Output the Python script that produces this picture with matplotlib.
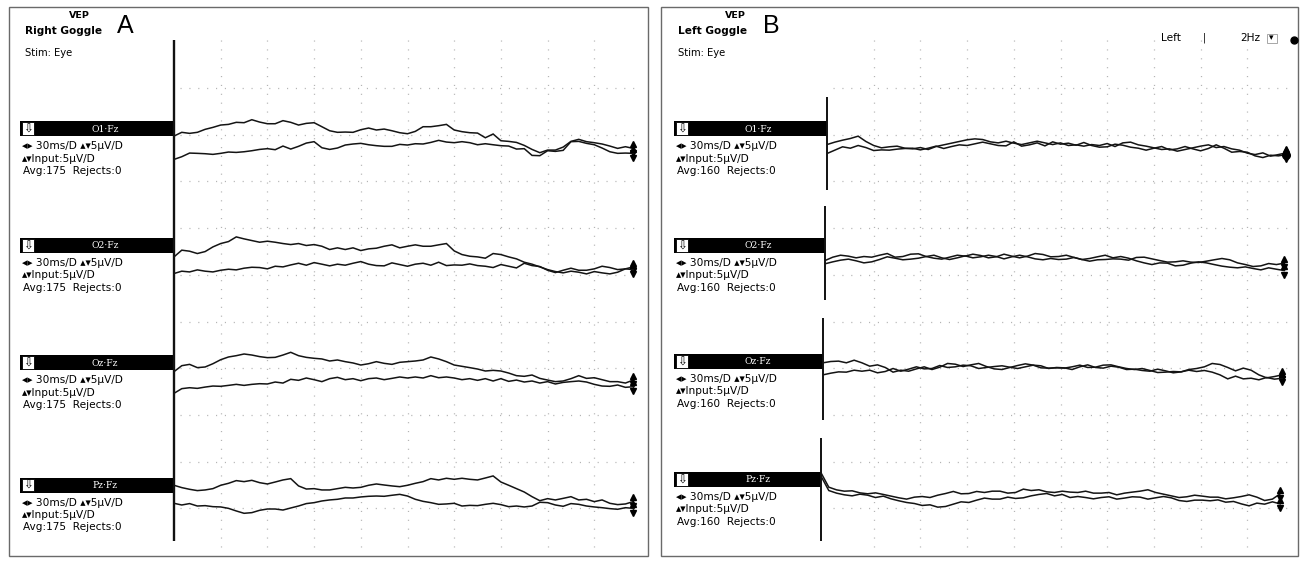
import numpy as np
import matplotlib
matplotlib.use('Agg')
import matplotlib.pyplot as plt
from matplotlib.patches import Rectangle

# ---------------- data (µV relative to channel label bar, sampled every 5 ms) --------
T_MS = np.arange(60) * 5.0
CHANNELS = ['O1-Fz', 'O2-Fz', 'Oz-Fz', 'Pz-Fz']
AVG_A = 175
AVG_B = 160

A_O1_UP = [-0.81,-0.41,-0.52,-0.41,-0.09,0.12,0.37,0.44,0.66,0.62,
           0.94,0.69,0.51,0.51,0.84,0.66,0.37,0.55,0.62,0.19,
           -0.24,-0.41,-0.38,-0.41,-0.13,0.05,-0.16,-0.06,-0.24,-0.45,
           -0.56,-0.31,0.19,0.19,0.30,0.44,-0.16,-0.34,-0.45,-0.49,
           -0.99,-0.59,-1.31,-1.38,-1.49,-1.81,-2.24,-2.59,-2.31,-2.31,
           -1.99,-1.38,-1.16,-1.41,-1.52,-1.66,-1.88,-2.13,-1.95,-2.13]
A_O1_LO = [-3.31,-3.02,-2.63,-2.66,-2.70,-2.77,-2.66,-2.52,-2.56,-2.49,
           -2.38,-2.24,-2.16,-2.27,-1.88,-2.20,-1.91,-1.56,-1.41,-2.06,
           -2.24,-2.09,-1.77,-1.66,-1.59,-1.74,-1.84,-1.91,-1.91,-1.70,
           -1.77,-1.63,-1.66,-1.49,-1.27,-1.45,-1.52,-1.41,-1.52,-1.74,
           -1.63,-1.74,-1.84,-1.88,-2.20,-2.16,-2.88,-2.91,-2.38,-2.45,
           -2.34,-1.41,-1.38,-1.59,-1.74,-2.09,-2.49,-2.66,-2.63,-2.66]
A_O2_UP = [-1.22,-0.50,-0.61,-0.86,-0.65,-0.15,0.21,0.42,0.92,0.71,
           0.53,0.35,0.46,0.35,0.21,0.10,0.21,0.00,0.10,-0.08,
           -0.43,-0.25,-0.43,-0.25,-0.54,-0.36,-0.29,-0.08,0.07,-0.25,
           -0.08,0.07,-0.08,-0.08,0.07,0.21,-0.58,-0.97,-1.15,-1.22,
           -1.36,-0.86,-0.97,-1.22,-1.43,-1.79,-2.00,-2.29,-2.58,-2.79,
           -2.93,-2.75,-2.86,-3.04,-2.79,-2.93,-3.04,-2.86,-2.50,-2.29]
A_O2_LO = [-3.00,-2.75,-2.83,-2.61,-2.75,-2.83,-2.65,-2.54,-2.61,-2.43,
           -2.33,-2.36,-2.50,-2.22,-2.29,-2.08,-1.90,-2.11,-1.83,-2.00,
           -2.18,-2.00,-2.11,-1.90,-1.72,-2.00,-2.15,-2.18,-1.86,-2.04,
           -2.22,-2.00,-1.90,-2.11,-1.79,-2.15,-2.08,-2.11,-1.97,-2.15,
           -2.22,-2.36,-2.04,-2.22,-2.40,-1.90,-2.15,-2.25,-2.65,-2.90,
           -2.65,-2.43,-2.65,-2.65,-2.50,-2.22,-2.36,-2.58,-2.50,-2.58]
A_OZ_UP = [-0.98,-0.34,-0.20,-0.55,-0.48,-0.13,0.30,0.59,0.73,0.91,
           0.80,0.63,0.52,0.55,0.80,1.09,0.73,0.55,0.45,0.38,
           0.16,0.27,0.09,-0.05,-0.27,-0.13,0.09,-0.09,-0.20,0.02,
           0.09,0.16,0.27,0.59,0.38,0.09,-0.27,-0.41,-0.55,-0.70,
           -0.91,-0.84,-0.91,-1.13,-1.41,-1.48,-1.34,-1.70,-1.88,-2.05,
           -1.98,-1.73,-1.41,-1.70,-1.63,-1.84,-2.05,-2.05,-2.20,-1.88]
A_OZ_LO = [-3.30,-2.80,-2.70,-2.77,-2.63,-2.52,-2.55,-2.45,-2.34,-2.45,
           -2.34,-2.27,-2.30,-2.09,-2.20,-1.80,-1.91,-1.66,-1.84,-2.05,
           -1.73,-1.59,-1.84,-1.73,-1.95,-1.73,-1.66,-1.84,-1.70,-1.55,
           -1.66,-1.55,-1.66,-1.41,-1.63,-1.55,-1.66,-1.84,-1.73,-1.91,
           -1.73,-1.98,-1.73,-2.02,-1.88,-2.09,-1.98,-2.20,-2.05,-2.30,
           -2.13,-2.05,-1.98,-2.09,-2.34,-2.52,-2.55,-2.41,-2.66,-2.59]
A_PZ_UP = [-0.03,-0.28,-0.46,-0.60,-0.53,-0.39,-0.03,0.18,0.47,0.36,
           0.50,0.25,0.11,0.32,0.54,0.68,-0.10,-0.43,-0.39,-0.53,
           -0.53,-0.39,-0.25,-0.32,-0.25,-0.03,0.11,0.00,-0.10,-0.18,
           -0.03,0.18,0.36,0.68,0.54,0.72,0.61,0.72,0.61,0.54,
           0.75,0.97,0.32,-0.03,-0.39,-0.75,-1.25,-1.68,-1.46,-1.60,
           -1.43,-1.25,-1.60,-1.53,-1.78,-1.60,-1.96,-2.10,-2.03,-1.78]
A_PZ_LO = [-1.96,-2.14,-1.99,-2.25,-2.21,-2.32,-2.35,-2.50,-2.78,-3.03,
           -2.96,-2.71,-2.57,-2.57,-2.68,-2.46,-2.25,-1.99,-1.89,-1.71,
           -1.60,-1.53,-1.39,-1.39,-1.28,-1.21,-1.18,-1.21,-1.10,-1.00,
           -1.18,-1.53,-1.75,-1.89,-2.07,-2.03,-1.96,-2.25,-2.18,-2.21,
           -2.07,-1.96,-2.10,-2.32,-2.25,-2.35,-2.25,-1.85,-1.89,-2.14,
           -2.28,-1.99,-2.07,-2.25,-2.35,-2.43,-2.53,-2.60,-2.43,-2.50]

B_O1_1 = [-1.72,-1.46,-1.25,-1.07,-0.82,-1.39,-1.82,-2.07,-1.96,-1.89,
          -2.11,-2.18,-2.04,-2.25,-1.93,-1.75,-1.57,-1.39,-1.21,-1.11,
          -1.18,-1.43,-1.54,-1.36,-1.57,-1.72,-1.54,-1.36,-1.54,-1.72,
          -1.54,-1.82,-1.75,-1.89,-1.72,-1.82,-1.61,-1.93,-1.54,-1.46,
          -1.75,-1.89,-2.07,-2.25,-2.18,-2.43,-2.25,-2.07,-1.89,-1.75,
          -2.04,-1.93,-2.18,-2.32,-2.64,-2.79,-2.61,-2.96,-2.79,-2.61]
B_O1_2 = [-2.68,-2.32,-1.96,-2.11,-1.82,-2.04,-2.36,-2.29,-2.32,-2.21,
          -2.14,-2.11,-2.29,-2.11,-1.89,-2.14,-1.93,-1.75,-1.82,-1.64,
          -1.46,-1.64,-1.82,-1.86,-1.43,-1.89,-1.75,-1.54,-1.86,-1.43,
          -1.68,-1.57,-1.79,-1.50,-1.82,-2.00,-1.96,-1.68,-1.79,-2.00,
          -2.11,-2.32,-2.11,-1.93,-2.29,-2.18,-1.93,-2.18,-2.39,-2.14,
          -1.75,-2.11,-2.54,-2.46,-2.54,-2.93,-3.11,-2.86,-2.93,-2.79]
B_O2_1 = [-1.61,-1.25,-1.04,-1.14,-1.32,-1.18,-1.25,-1.04,-0.86,-1.25,
          -1.18,-0.93,-0.89,-1.18,-1.36,-1.46,-1.25,-1.04,-1.14,-0.93,
          -1.07,-1.32,-1.21,-0.93,-1.14,-1.32,-1.14,-0.86,-0.96,-1.21,
          -1.18,-1.04,-1.28,-1.50,-1.68,-1.53,-1.50,-1.43,-1.46,-1.57,
          -1.28,-1.25,-1.43,-1.61,-1.78,-1.75,-1.64,-1.78,-1.82,-1.68,
          -1.53,-1.39,-1.53,-1.86,-2.04,-2.25,-2.18,-1.93,-2.04,-1.89]
B_O2_2 = [-1.96,-1.75,-1.57,-1.46,-1.64,-1.86,-1.75,-1.50,-1.21,-1.36,
          -1.53,-1.46,-1.36,-1.18,-1.04,-1.32,-1.50,-1.32,-1.11,-1.32,
          -1.21,-1.04,-1.18,-1.43,-1.21,-1.04,-1.21,-1.43,-1.53,-1.39,
          -1.50,-1.46,-1.28,-1.50,-1.39,-1.21,-1.04,-1.32,-1.18,-1.36,
          -1.64,-1.86,-2.04,-1.86,-1.89,-2.18,-2.11,-1.89,-1.75,-1.86,
          -2.04,-2.21,-2.32,-2.39,-2.29,-2.46,-2.61,-2.39,-2.54,-2.68]
B_OZ_1 = [-0.14,0.00,0.04,-0.14,0.14,-0.14,-0.50,-0.36,-0.64,-1.14,
          -0.93,-1.04,-0.79,-0.57,-0.86,-0.61,-0.21,-0.29,-0.54,-0.36,
          -0.21,-0.54,-0.79,-0.86,-0.64,-0.43,-0.25,-0.39,-0.68,-0.71,
          -0.68,-0.71,-0.57,-0.39,-0.64,-0.61,-0.39,-0.36,-0.57,-0.75,
          -0.86,-0.75,-0.96,-1.18,-1.14,-1.07,-1.11,-0.86,-0.75,-0.57,
          -0.21,-0.32,-0.64,-1.00,-0.71,-0.93,-1.43,-1.75,-1.61,-1.43]
B_OZ_2 = [-1.43,-1.25,-1.11,-1.14,-0.93,-1.04,-0.93,-1.21,-1.07,-0.75,
          -1.04,-0.82,-0.57,-0.79,-0.75,-0.43,-0.64,-0.57,-0.39,-0.46,
          -0.75,-0.64,-0.54,-0.46,-0.61,-0.75,-0.57,-0.39,-0.46,-0.75,
          -0.64,-0.68,-0.86,-0.57,-0.36,-0.64,-0.71,-0.50,-0.61,-0.86,
          -0.82,-0.96,-1.04,-0.82,-1.00,-1.21,-1.11,-0.93,-1.07,-0.96,
          -1.14,-1.43,-1.86,-1.57,-1.86,-1.79,-1.96,-1.71,-1.89,-1.79]
B_PZ_1 = [0.72,-0.82,-1.11,-1.25,-1.21,-1.43,-1.53,-1.43,-1.60,-1.78,
          -1.96,-2.10,-1.89,-1.82,-1.93,-1.68,-1.50,-1.28,-1.53,-1.50,
          -1.28,-1.39,-1.25,-1.25,-1.46,-1.39,-1.03,-1.18,-1.10,-1.32,
          -1.39,-1.25,-1.35,-1.39,-1.25,-1.46,-1.46,-1.39,-1.64,-1.46,
          -1.35,-1.25,-1.10,-1.39,-1.57,-1.75,-1.93,-1.85,-1.68,-1.78,
          -1.89,-1.89,-2.07,-1.96,-1.82,-1.64,-1.89,-2.25,-2.10,-1.53]
B_PZ_2 = [0.36,-1.18,-1.46,-1.64,-1.75,-1.57,-1.68,-1.93,-1.78,-2.07,
          -2.28,-2.46,-2.57,-2.78,-2.71,-2.96,-2.89,-2.64,-2.39,-2.46,
          -2.21,-1.99,-2.10,-2.10,-1.89,-2.03,-1.96,-1.75,-1.60,-1.50,
          -1.75,-1.60,-1.93,-1.82,-1.93,-2.07,-1.93,-1.85,-2.10,-1.99,
          -1.85,-1.89,-2.10,-1.96,-1.82,-1.96,-2.25,-2.35,-2.21,-2.21,
          -2.28,-2.18,-2.43,-2.35,-2.61,-2.82,-2.53,-2.64,-2.39,-2.61]

A_TRACES = [(A_O1_UP, A_O1_LO), (A_O2_UP, A_O2_LO), (A_OZ_UP, A_OZ_LO), (A_PZ_UP, A_PZ_LO)]
B_TRACES = [(B_O1_1, B_O1_2), (B_O2_1, B_O2_2), (B_OZ_1, B_OZ_2), (B_PZ_1, B_PZ_2)]

# ---------------- layout ----------------
W, H = 1305, 562
fig = plt.figure(figsize=(W / 100, H / 100), dpi=100)
deco = fig.add_axes([0, 0, 1, 1])
deco.set_xlim(0, W)
deco.set_ylim(H, 0)
deco.axis('off')

PX_PER_DIV = 46.7
PX_MS = PX_PER_DIV / 30.0   # 30 ms / division
PX_UV = PX_PER_DIV / 5.0    # 5 uV / division
TRACE_C = '#141414'
GRID_C = '#b4b4b4'
SANS = 'DejaVu Sans'
INFO_FS = 7.6

# panel borders
for (bx, bw) in [(9, 639), (661, 637)]:
    deco.add_patch(Rectangle((bx, 7), bw, 549, fill=False, edgecolor='#6a6a6a', lw=1.0))


def grid(x0):
    for n in range(1, 10):
        x = x0 + PX_PER_DIV * n
        deco.plot([x, x], [40, 550], ls=(0, (0.9, 6.2)), color=GRID_C, lw=0.9)
    for m in range(10):
        y = 88 + PX_PER_DIV * m
        deco.plot([x0 + 6, x0 + 464], [y, y], ls=(0, (0.9, 6.2)), color=GRID_C, lw=0.9)


def header(tx, vep_x, goggle, letter, letter_x):
    deco.text(vep_x, 16, 'VEP', fontsize=6.8, fontweight='bold', ha='center', va='center', family=SANS)
    deco.text(tx, 31, goggle, fontsize=7.6, fontweight='bold', ha='left', va='center', family=SANS)
    deco.text(letter_x, 26, letter, fontsize=18, ha='left', va='center', family='Liberation Sans')
    deco.text(tx, 53, 'Stim: Eye', fontsize=7.2, ha='left', va='center', family=SANS)


def channel_box(tx, x_end, yc, name, avg, label_cx):
    deco.add_patch(Rectangle((tx - 3, yc - 7.5), x_end - tx + 3, 15, color='black', lw=0))
    deco.add_patch(Rectangle((tx - 1, yc - 6.3), 11.5, 12.6, facecolor='white', edgecolor='black', lw=0.6))
    deco.text(tx + 4.8, yc + 0.3, '\u21e9', fontsize=8.5, ha='center', va='center', family=SANS, color='black')
    deco.text(label_cx, yc + 0.5, name.replace('-', '\u00b7'), fontsize=6.6, ha='center', va='center',
              family='DejaVu Serif', color='white')
    deco.text(tx - 1, yc + 17.5, '\u25c2\u25b8 30ms/D \u25b4\u25be5\u03bcV/D', fontsize=INFO_FS, ha='left',
              va='center', family=SANS)
    deco.text(tx - 1, yc + 30, '\u25b4\u25beInput:5\u03bcV/D', fontsize=INFO_FS, ha='left', va='center',
              family=SANS)
    deco.text(tx, yc + 42.5, 'Avg:%d  Rejects:0' % avg, fontsize=INFO_FS, ha='left', va='center', family=SANS)


def traces(x0, yc, pair, blob=False):
    wpx, hpx = 480, 120
    ax = fig.add_axes([x0 / W, 1 - (yc + hpx / 2) / H, wpx / W, hpx / H])
    ax.set_xlim(0, wpx / PX_MS)
    ax.set_ylim(-hpx / 2 / PX_UV, hpx / 2 / PX_UV)
    ax.axis('off')
    ax.patch.set_alpha(0)
    for vals in pair:
        ax.plot(T_MS, vals, color=TRACE_C, lw=1.1, solid_joinstyle='miter')
        ax.plot(T_MS[-1], vals[-1] + 0.45, marker='^', ms=3.8, color='black', clip_on=False)
        ax.plot(T_MS[-1], vals[-1] - 0.45, marker='v', ms=3.8, color='black', clip_on=False)
    if blob:
        ax.plot(T_MS[-1], pair[1][-1], marker='o', ms=5.5, color='black', clip_on=False)


# ---- Panel A ----
grid(174)
header(25, 79, 'Right Goggle', 'A', 117)
deco.plot([174, 174], [40, 541], color='#111111', lw=1.7, solid_capstyle='butt')
A_CENTERS = [128.5, 245.5, 362.5, 485]
for name, yc, pair in zip(CHANNELS, A_CENTERS, A_TRACES):
    channel_box(23, 174, yc, name, AVG_A, 105)
    traces(174, yc, pair)

# ---- Panel B ----
grid(827)
header(678, 735, 'Left Goggle', 'B', 763)
B_X0 = [827, 825, 823, 821]
B_CENTERS = [128.5, 245.5, 361.5, 479.5]
B_SEGS = [(97, 190), (206, 300), (318, 420), (438, 541)]
for name, yc, pair, x0, seg in zip(CHANNELS, B_CENTERS, B_TRACES, B_X0, B_SEGS):
    deco.plot([x0, x0], list(seg), color='#111111', lw=1.4, solid_capstyle='butt')
    channel_box(677, x0, yc, name, AVG_B, 758)
    traces(x0, yc, pair, blob=(name == 'O1-Fz'))

# top-right controls of panel B
deco.text(1161, 38, 'Left', fontsize=7.6, ha='left', va='center', family=SANS)
deco.text(1204, 38, '|', fontsize=7, ha='center', va='center', family=SANS)
deco.text(1240, 38, '2Hz', fontsize=7.6, ha='left', va='center', family=SANS)
deco.add_patch(Rectangle((1266.5, 33.5), 10, 9, fill=False, edgecolor='#999999', lw=0.6))
deco.text(1271.5, 38, '\u25be', fontsize=6.5, ha='center', va='center', family=SANS)
deco.plot(1294, 40, marker='o', ms=5, color='black')

fig.savefig('out.png', dpi=100)
